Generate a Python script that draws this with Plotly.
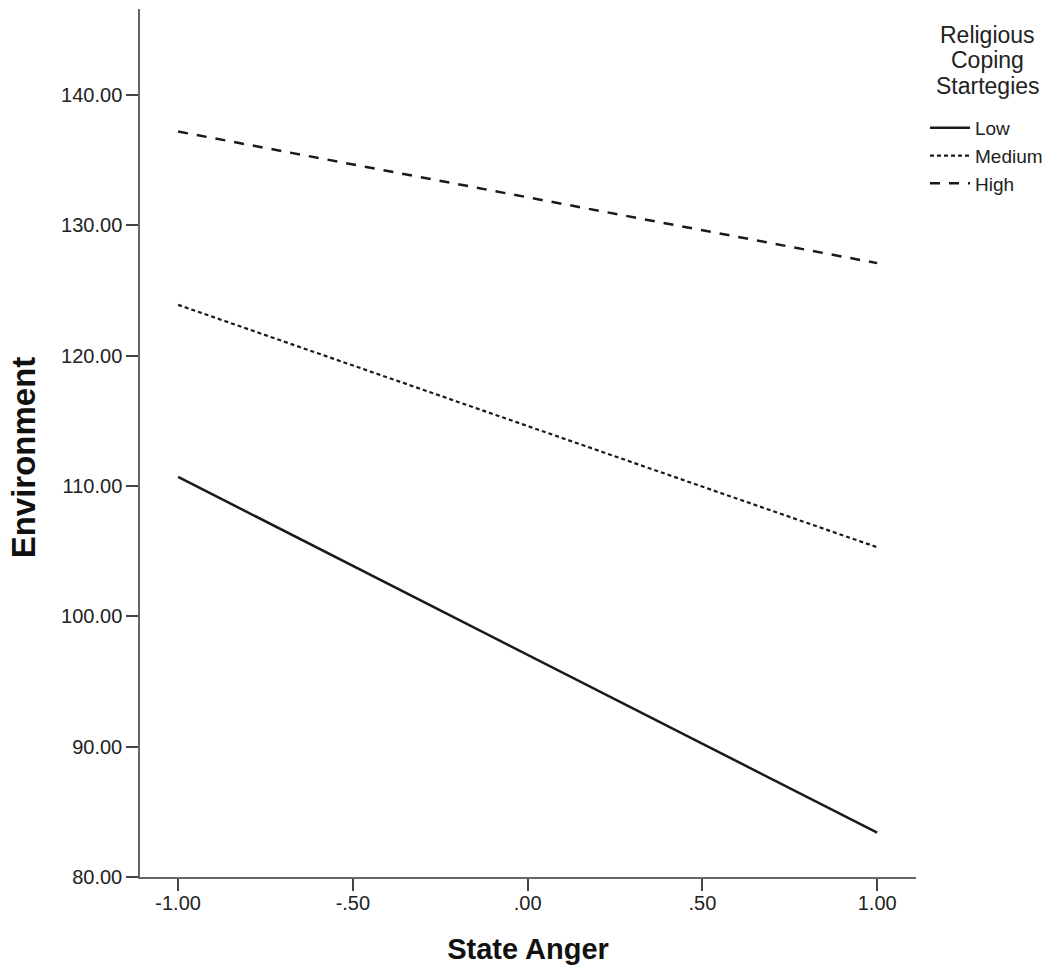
import plotly.graph_objects as go

# Predicted Environment scores at low / high State Anger
state_anger = [-1.0, 1.0]
environment_low = [110.7, 83.4]
environment_medium = [123.9, 105.3]
environment_high = [137.2, 127.1]

series_names = ["Low", "Medium", "High"]
legend_title_lines = ["Religious", "Coping", "Startegies"]
x_tick_values = [-1.0, -0.5, 0.0, 0.5, 1.0]
x_tick_labels = ["-1.00", "-.50", ".00", ".50", "1.00"]
y_tick_values = [80, 90, 100, 110, 120, 130, 140]
y_tick_labels = ["80.00", "90.00", "100.00", "110.00", "120.00", "130.00", "140.00"]

line_styles = {
    "Low": dict(color="#1a1a1a", width=2.5, dash="solid"),
    "Medium": dict(color="#1a1a1a", width=2.2, dash="4px,3px"),
    "High": dict(color="#1a1a1a", width=2.5, dash="10px,9px"),
}

fig = go.Figure()
for name, values in zip(series_names, [environment_low, environment_medium, environment_high]):
    fig.add_trace(go.Scatter(x=state_anger, y=values, mode="lines", name=name,
                             line=line_styles[name]))

base_font = "Liberation Sans, Arial, sans-serif"

fig.update_layout(
    width=1054, height=969,
    margin=dict(l=140, r=137, t=9, b=91),
    paper_bgcolor="white", plot_bgcolor="white",
    font=dict(family=base_font, size=20, color="#222"),
    showlegend=True,
    legend=dict(
        xref="container", yref="container",
        x=0.8776, y=0.8875, xanchor="left", yanchor="top",
        font=dict(size=19, color="#222"),
        itemwidth=40,
        bgcolor="rgba(0,0,0,0)",
        tracegroupgap=0,
    ),
)

# Legend heading, one centred line per row
for i, line in enumerate(legend_title_lines):
    fig.add_annotation(
        text=line, xref="paper", yref="paper",
        x=1.0927, y=0.970 - i * 0.0293, xanchor="center", yanchor="middle",
        showarrow=False, font=dict(family=base_font, size=23, color="#222"),
    )

# Vertical axis title
fig.add_annotation(
    text="<b>Environment</b>", xref="paper", yref="paper",
    x=-0.150, y=0.483, xanchor="center", yanchor="middle", textangle=-90,
    showarrow=False, font=dict(family=base_font, size=33, color="#111"),
)

fig.update_xaxes(
    range=[-1.109, 1.111],
    tickvals=x_tick_values, ticktext=x_tick_labels,
    showgrid=False, zeroline=False,
    showline=True, linecolor="#666", linewidth=1.5,
    ticks="outside", ticklen=12, tickwidth=1.5, tickcolor="#444",
    ticklabelstandoff=-5,
    tickfont=dict(size=20, color="#222"),
    title=dict(text="<b>State Anger</b>",
               font=dict(family=base_font, size=29, color="#111"), standoff=26),
)
fig.update_yaxes(
    range=[80, 146.6],
    tickvals=y_tick_values, ticktext=y_tick_labels,
    showgrid=False, zeroline=False,
    showline=True, linecolor="#666", linewidth=1.5,
    ticks="outside", ticklen=12, tickwidth=1.5, tickcolor="#444",
    tickfont=dict(size=20, color="#222"),
)

fig.write_html("out.html")
